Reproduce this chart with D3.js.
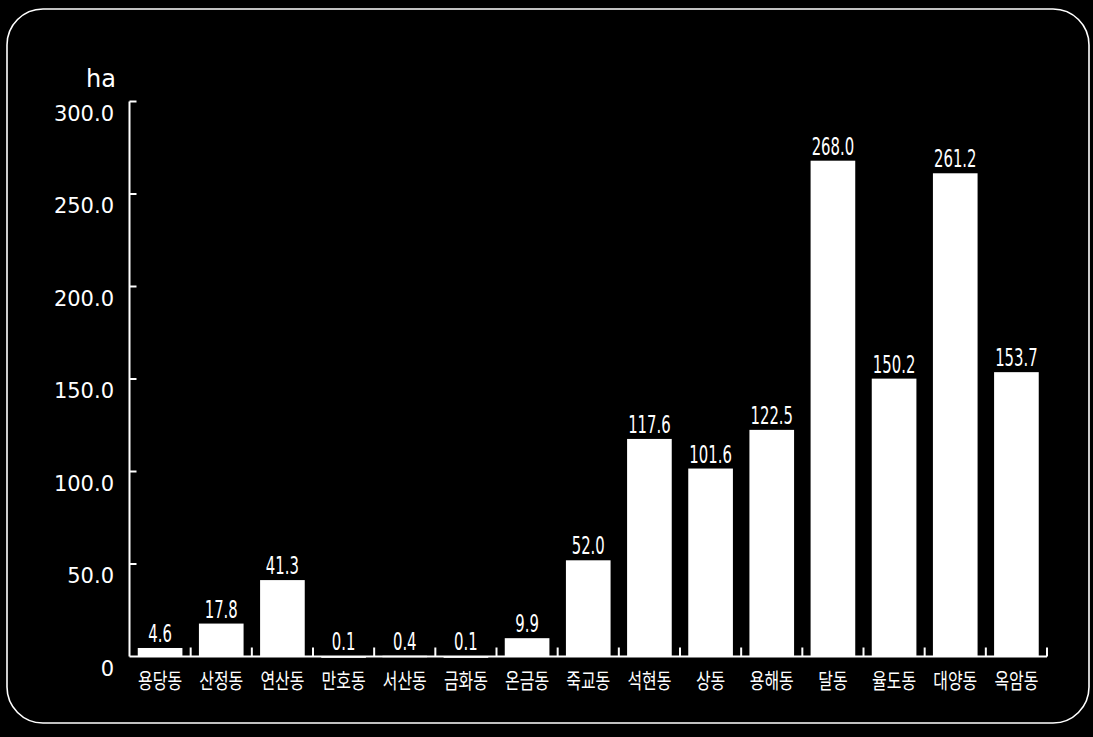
<!DOCTYPE html>
<html><head><meta charset="utf-8">
<script src="https://cdn.jsdelivr.net/npm/d3@7"></script>
<style>html,body{margin:0;padding:0;background:#000;}svg{display:block;}</style>
</head><body>
<svg id="c" width="1093" height="737"></svg>
<script>
const categories = ["용당동","산정동","연산동","만호동","서산동","금화동","온금동","죽교동","석현동","상동","용해동","달동","율도동","대양동","옥암동"];
const values = [4.6,17.8,41.3,0.1,0.4,0.1,9.9,52.0,117.6,101.6,122.5,268.0,150.2,261.2,153.7];
const yTicks = [0,50,100,150,200,250,300];
const yTickLabels = ["0","50.0","100.0","150.0","200.0","250.0","300.0"];
const unit = "ha";

const svg = d3.select("#c");
svg.append("rect").attr("width",1093).attr("height",737).attr("fill","#000");
svg.append("rect").attr("x",7).attr("y",9).attr("width",1082).attr("height",714)
  .attr("rx",36).attr("ry",36).attr("fill","none").attr("stroke","#fff").attr("stroke-width",1.6);

const x0 = 129.5, x1 = 1047, y0 = 656.5, yTop = 101.5;
const x = d3.scaleBand().domain(categories).range([x0,x1]).paddingInner(0.27).paddingOuter(0.135);
const y = d3.scaleLinear().domain([0,300]).range([y0,yTop]);

const g = svg.append("g");
g.append("line").attr("x1",x0).attr("x2",x0).attr("y1",yTop).attr("y2",y0).attr("stroke","#fff").attr("stroke-width",2);
g.selectAll(".yt").data(yTicks.slice(1)).join("line")
  .attr("x1",x0).attr("x2",x0+7).attr("y1",d=>y(d)).attr("y2",d=>y(d)).attr("stroke","#fff").attr("stroke-width",2);
g.selectAll(".yl").data(yTicks).join("text")
  .attr("x",114).attr("y",(d)=>y(d)+19).attr("text-anchor","end")
  .attr("font-family","DejaVu Sans").attr("font-size",21).attr("fill","#fff")
  .text((d,i)=>yTickLabels[i]);
g.append("text").attr("x",101).attr("y",87).attr("text-anchor","middle")
  .attr("font-family","DejaVu Sans").attr("font-size",24).attr("fill","#fff").text(unit);

g.append("line").attr("x1",x0).attr("x2",x1).attr("y1",y0).attr("y2",y0).attr("stroke","#fff").attr("stroke-width",2);
const step = x.step();
g.selectAll(".xt").data(categories).join("line")
  .attr("x1",(d)=>x(d)-x.paddingOuter()*step+step).attr("x2",(d)=>x(d)-x.paddingOuter()*step+step)
  .attr("y1",y0).attr("y2",y0-9).attr("stroke","#fff").attr("stroke-width",2);

g.selectAll(".bar").data(values).join("rect")
  .attr("x",(d,i)=>x(categories[i])).attr("width",x.bandwidth())
  .attr("y",d=>y(d)).attr("height",d=>Math.max(y0-y(d),1.5)).attr("fill","#fff");

g.selectAll(".vl").data(values).join("text")
  .attr("transform",(d,i)=>`translate(${x(categories[i])+x.bandwidth()/2},${y(d)-6}) scale(0.62,1)`)
  .attr("text-anchor","middle").attr("font-family","'DejaVu Sans',sans-serif")
  .attr("font-size",24).attr("fill","#fff").text(d=>d.toFixed(1));

g.selectAll(".cl").data(categories).join("text")
  .attr("transform",d=>`translate(${x(d)+x.bandwidth()/2},688) scale(0.76,1)`)
  .attr("text-anchor","middle").attr("font-family","'Noto Sans CJK KR',sans-serif")
  .attr("font-size",21).attr("fill","#fff").text(d=>d);
</script>
</body></html>
